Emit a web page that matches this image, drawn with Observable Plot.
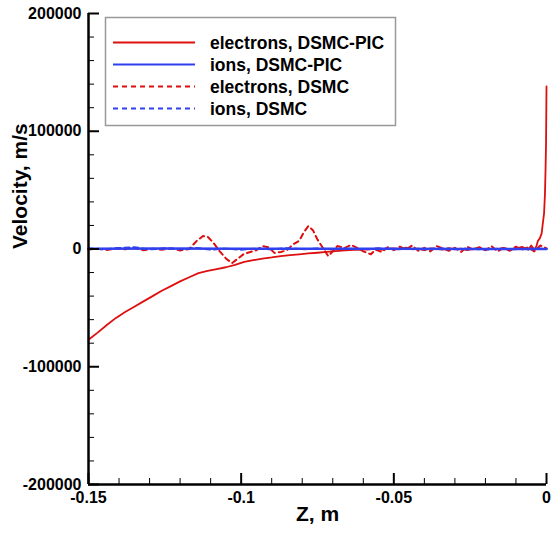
<!DOCTYPE html>
<html>
<head>
<meta charset="utf-8">
<script src="https://cdn.jsdelivr.net/npm/d3@7"></script>
<script src="https://cdn.jsdelivr.net/npm/@observablehq/plot@0.6"></script>
<style>
  html, body { margin: 0; padding: 0; background: #fff; }
  #chart { width: 551px; height: 535px; }
</style>
</head>
<body>
<div id="chart"></div>
<script>
// ---- Data ----
const seriesNames = ["electrons, DSMC-PIC", "ions, DSMC-PIC", "electrons, DSMC", "ions, DSMC"];

// electrons, DSMC-PIC (solid red)
const ePicZ = [-0.150,-0.147,-0.144,-0.141,-0.138,-0.135,-0.132,-0.129,-0.126,-0.123,-0.120,-0.117,-0.114,-0.111,-0.108,-0.105,-0.102,-0.099,-0.096,-0.093,-0.090,-0.087,-0.084,-0.081,-0.078,-0.075,-0.072,-0.069,-0.066,-0.063,-0.060,
  -0.058,-0.056,-0.054,-0.052,-0.050,-0.048,-0.046,-0.044,-0.042,-0.040,-0.038,-0.036,-0.034,-0.032,-0.030,-0.028,-0.026,-0.024,-0.022,-0.020,-0.018,-0.016,-0.014,-0.012,-0.010,-0.008,-0.006,
  -0.005,-0.004,-0.0033,-0.0028,-0.0022,-0.0016,-0.0011,-0.0008,-0.0005,-0.0003,-0.00015,0];
const ePicV = [-77000,-71000,-64500,-58500,-53500,-49000,-44500,-40000,-35500,-31500,-27500,-24000,-20500,-18500,-17000,-15500,-13500,-11000,-9500,-8200,-7200,-6000,-5200,-4500,-3800,-3200,-2500,-1800,-1200,-800,-500,
  -300,400,-800,200,600,-400,1200,-200,300,-900,500,100,-600,800,-300,400,-1000,200,700,-500,300,-200,900,-700,400,1800,-600,
  3000,-1000,2500,7000,9000,13000,24000,30000,47000,69000,90000,138000];

// ions, DSMC-PIC (solid blue)
const iPicZ = [-0.150,-0.125,-0.100,-0.075,-0.050,-0.025,0];
const iPicV = [300,400,300,200,200,100,0];

// electrons, DSMC (dashed red)
const eDsmcZ = [-0.150,-0.147,-0.144,-0.141,-0.138,-0.135,-0.132,-0.129,-0.126,-0.123,-0.120,-0.117,
  -0.1145,-0.1125,-0.111,-0.109,-0.107,-0.105,-0.103,-0.101,-0.099,-0.097,-0.095,-0.093,-0.091,-0.089,-0.087,-0.085,-0.083,-0.081,-0.0795,-0.078,-0.0765,-0.075,-0.073,-0.0715,-0.070,-0.0685,-0.066,-0.064,-0.062,-0.060,-0.0575,-0.056,
  -0.054,-0.052,-0.050,-0.048,-0.046,-0.044,-0.042,-0.040,-0.038,-0.036,-0.034,-0.032,-0.030,-0.028,-0.026,-0.024,-0.022,-0.020,-0.018,-0.016,-0.014,-0.012,-0.010,-0.008,-0.006,-0.004,-0.002,0];
const eDsmcV = [-500,300,-800,500,-300,800,-1000,200,-600,400,-1200,0,
  7000,11000,10500,5000,-2000,-8000,-12000,-8000,-4000,-2500,-1000,2500,1500,-3500,-2500,-1000,4000,7000,14000,19500,16000,8000,0,-6000,-2000,2500,1000,3500,1000,-2000,-4500,-500,
  -2500,1500,-1000,2000,-500,3000,-1500,1000,-2000,2500,500,-1500,1000,-2500,2000,-500,1500,-1000,2500,-2000,1000,-1500,2000,-500,1500,-2000,3000,500];

// ions, DSMC (dashed blue)
const iDsmcZ = [-0.150,-0.145,-0.140,-0.135,-0.130,-0.125,-0.120,-0.115,-0.110,-0.105,-0.100,-0.095,-0.090,-0.085,-0.080,-0.075,-0.070,-0.065,-0.060,-0.055,-0.050,-0.045,-0.040,-0.035,-0.030,-0.025,-0.020,-0.015,-0.010,-0.005,0];
const iDsmcV = [500,-300,800,1500,-400,600,-200,900,-500,300,-600,400,-300,700,-200,500,-400,300,-500,600,-300,200,-400,500,-200,300,-500,400,-300,600,200];

// axes
const xDomain = [-0.15, 0];
const yDomain = [-200000, 200000];
const xMajor = [-0.15, -0.1, -0.05, 0];
const xTickLabels = ["-0.15", "-0.1", "-0.05", "0"];
const xMinor = [-0.14,-0.13,-0.12,-0.11,-0.09,-0.08,-0.07,-0.06,-0.04,-0.03,-0.02,-0.01];
const yMajor = [-200000, -100000, 0, 100000, 200000];
const yTickLabels = ["-200000", "-100000", "0", "100000", "200000"];
const yMinor = [-180000,-160000,-140000,-120000,-80000,-60000,-40000,-20000,20000,40000,60000,80000,120000,140000,160000,180000];
const xTitle = "Z, m";
const yTitle = "Velocity, m/s";

// ---- Build ----
const RED = "#dd0f0f", BLUE = "#3040ee";
const FONT = "'Liberation Sans', Arial, Helvetica, sans-serif";
const W = 551, H = 535;
const mL = 88, mR = 5, mT = 13, mB = 51;
const frameW = W - mL - mR, frameH = H - mT - mB;

const toRows = (zs, vs) => zs.map((z, i) => ({z, v: vs[i]}));
const ePic = toRows(ePicZ, ePicV);
const iPic = toRows(iPicZ, iPicV);
const eDsmc = toRows(eDsmcZ, eDsmcV);
const iDsmc = toRows(iDsmcZ, iDsmcV);

const xFmt = d => xTickLabels[xMajor.findIndex(t => Math.abs(t - d) < 1e-9)] ?? String(d);
const yFmt = d => yTickLabels[yMajor.indexOf(d)] ?? String(d);

const chart = Plot.plot({
  width: W, height: H,
  marginLeft: mL, marginRight: mR, marginTop: mT, marginBottom: mB,
  style: {fontFamily: FONT, background: "white", overflow: "visible"},
  x: {domain: xDomain},
  y: {domain: yDomain},
  marks: [
    // data lines
    Plot.line(eDsmc, {x: "z", y: "v", stroke: RED, strokeWidth: 2, strokeDasharray: "5,4"}),
    Plot.line(iDsmc, {x: "z", y: "v", stroke: BLUE, strokeWidth: 2, strokeDasharray: "5,4"}),
    Plot.line(ePic, {x: "z", y: "v", stroke: RED, strokeWidth: 1.8}),
    Plot.line(iPic, {x: "z", y: "v", stroke: BLUE, strokeWidth: 2.5}),
    // axis lines
    Plot.ruleX([xDomain[0]], {stroke: "black", strokeWidth: 2.5}),
    Plot.ruleY([yDomain[0]], {stroke: "black", strokeWidth: 2.5}),
    // inward ticks
    Plot.tickY(yMajor, {y: d => d, stroke: "black", strokeWidth: 2, insetRight: frameW - 11}),
    Plot.tickY(yMinor, {y: d => d, stroke: "black", strokeWidth: 1, insetRight: frameW - 6}),
    Plot.tickX(xMajor, {x: d => d, stroke: "black", strokeWidth: 2, insetTop: frameH - 11}),
    Plot.tickX(xMinor, {x: d => d, stroke: "black", strokeWidth: 1, insetTop: frameH - 6}),
    // tick labels
    Plot.axisY({ticks: yMajor, tickSize: 0, tickPadding: 7, tickFormat: yFmt, label: null,
      fontSize: 16, fontWeight: "bold", fill: "black"}),
    Plot.axisX({ticks: xMajor, tickSize: 0, tickPadding: 7, tickFormat: xFmt, label: null,
      fontSize: 16, fontWeight: "bold", fill: "black"}),
    // axis titles
    Plot.text([yTitle], {text: d => d, frameAnchor: "left", dx: -68, rotate: -90,
      fontSize: 21, fontWeight: "bold", fill: "black"}),
    Plot.text([xTitle], {text: d => d, frameAnchor: "bottom", dy: 36,
      fontSize: 21, fontWeight: "bold", fill: "black"})
  ]
});

// Legend (inside the plot area, top-left)
const svg = d3.select(chart);
const lg = svg.append("g").attr("class", "legend").attr("text-anchor", "start");
lg.append("rect").attr("x", 105.5).attr("y", 17.5).attr("width", 290).attr("height", 108)
  .attr("fill", "white").attr("stroke", "#999").attr("stroke-width", 1.5);
const legendStyles = [
  {stroke: RED, dash: null, w: 2.2},
  {stroke: BLUE, dash: null, w: 2.2},
  {stroke: RED, dash: "5,4", w: 2.2},
  {stroke: BLUE, dash: "5,4", w: 2.2}
];
seriesNames.forEach((name, i) => {
  const y = 42.5 + i * 22;
  lg.append("line").attr("x1", 113).attr("x2", 195).attr("y1", y).attr("y2", y)
    .attr("stroke", legendStyles[i].stroke).attr("stroke-width", legendStyles[i].w)
    .attr("stroke-dasharray", legendStyles[i].dash);
  lg.append("text").attr("x", 210).attr("y", y).attr("dy", "0.35em")
    .attr("text-anchor", "start")
    .attr("font-family", FONT).attr("font-size", 17.5).attr("font-weight", "bold")
    .attr("fill", "black").text(name);
});

document.getElementById("chart").appendChild(chart);
</script>
</body>
</html>
